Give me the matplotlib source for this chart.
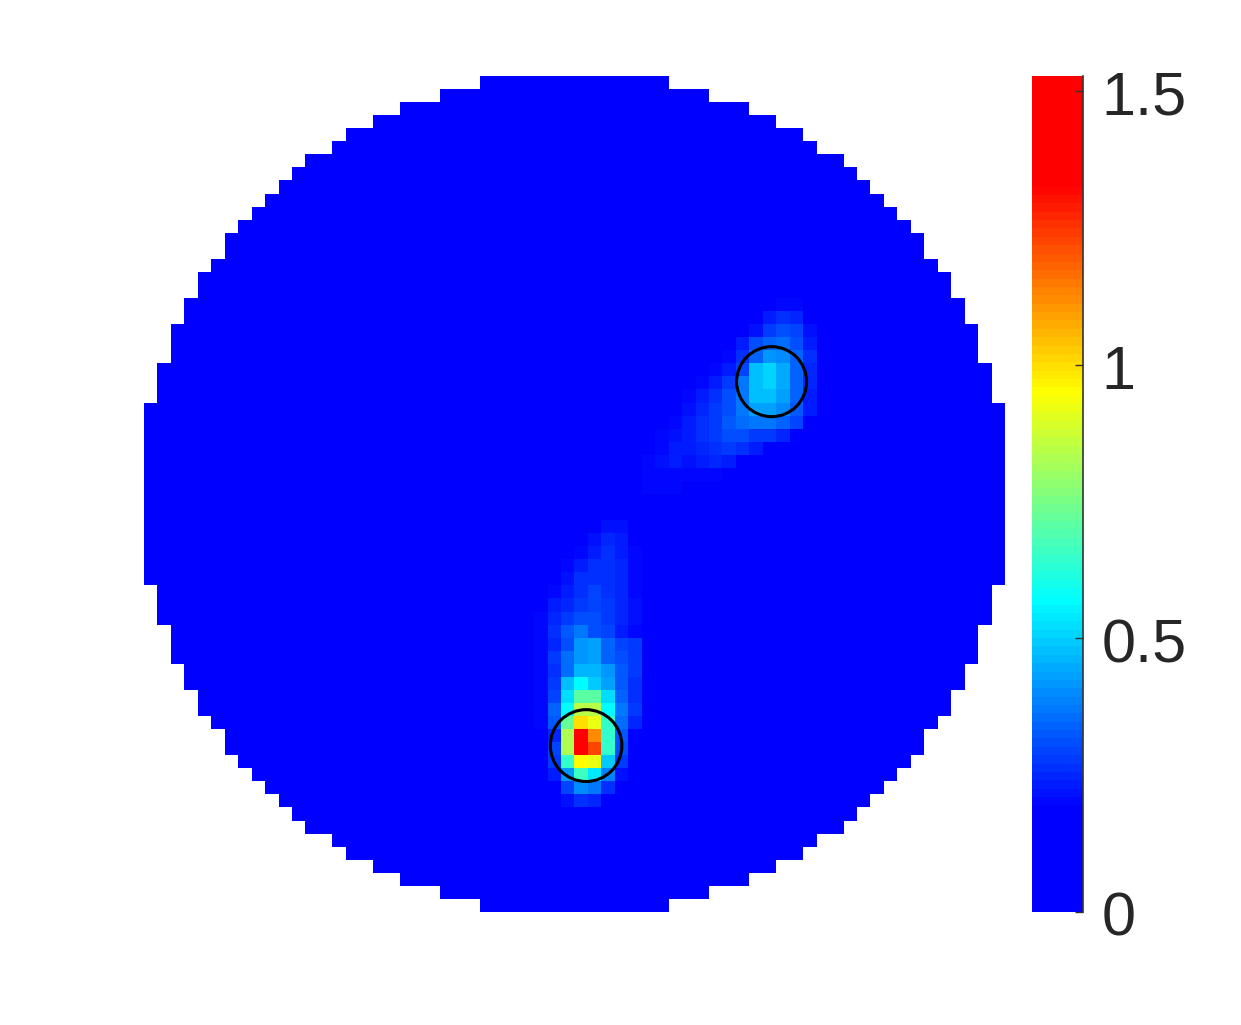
import numpy as np
import matplotlib
matplotlib.use('Agg')
import matplotlib.pyplot as plt
from matplotlib.colors import LinearSegmentedColormap
from matplotlib.patches import Ellipse
from matplotlib.transforms import ScaledTranslation

plt.rcParams['font.family'] = ['Liberation Sans', 'DejaVu Sans']

# first column inside the disc, top half of the 64x64 grid
row_start = [25, 22, 19, 17, 15, 14, 12, 11, 10, 9, 8, 7, 6, 6, 5, 4, 4, 3, 3, 2, 2, 2, 1, 1, 1,
             0, 0, 0, 0, 0, 0, 0]

# row: (first column, values)
top_blob = {
    17: (47, [.21, .21]),
    18: (46, [.23, .27, .25]),
    19: (45, [.22, .29, .32, .30, .22]),
    20: (44, [.24, .31, .34, .36, .32, .24]),
    21: (43, [.21, .27, .35, .42, .40, .34, .26]),
    22: (42, [.20, .24, .30, .475, .51, .45, .35, .25]),
    23: (41, [.21, .24, .29, .38, .48, .51, .45, .34, .25]),
    24: (40, [.21, .24, .27, .31, .37, .48, .475, .44, .34, .24]),
    25: (40, [.22, .25, .28, .32, .38, .44, .44, .40, .33, .23]),
    26: (39, [.21, .24, .26, .29, .33, .36, .38, .37, .35, .30]),
    27: (38, [.20, .22, .24, .26, .29, .31, .31, .29, .28, .25]),
    28: (38, [.21, .23, .24, .25, .27, .29, .26, .24]),
    29: (37, [.21, .22, .23, .22, .23, .25, .24]),
    30: (37, [.21, .21, .21, .205, .20, .20]),
    31: (37, [.21, .21, .20]),
}

bottom_blob = {
    34: (34, [.22, .22]),
    35: (33, [.22, .25, .23]),
    36: (32, [.21, .24, .26, .24, .21]),
    37: (31, [.21, .23, .26, .27, .25, .21]),
    38: (31, [.22, .26, .27, .27, .25, .21]),
    39: (30, [.21, .24, .27, .30, .27, .25, .21]),
    40: (30, [.23, .25, .29, .30, .28, .25, .22]),
    41: (29, [.21, .25, .29, .31, .31, .28, .25, .22]),
    42: (29, [.21, .27, .33, .37, .31, .30, .24, .20]),
    43: (29, [.20, .25, .32, .42, .44, .35, .30, .28]),
    44: (29, [.21, .29, .36, .42, .44, .35, .31, .28]),
    45: (29, [.21, .27, .36, .46, .46, .42, .33, .28]),
    46: (29, [.21, .28, .475, .57, .50, .44, .33, .27]),
    47: (29, [.21, .30, .52, .71, .71, .52, .35, .27]),
    48: (29, [.21, .35, .57, .84, .84, .57, .38, .28]),
    49: (29, [.21, .33, .72, .995, .93, .65, .36, .25]),
    50: (30, [.25, .827, 1.38, 1.127, .65, .33]),
    51: (30, [.30, .827, 1.38, 1.23, .65, .32]),
    52: (30, [.28, .65, .955, .92, .50, .28]),
    53: (30, [.24, .42, .66, .54, .39, .22]),
    54: (31, [.30, .40, .38, .26]),
    55: (31, [.22, .26, .25]),
}

# circles: x, y, x radius, y radius in grid cells
circles = [(46.65, 23.4, 2.6, 2.68), (32.86, 51.26, 2.66, 2.75)]

vmax = 1.527
cbar_ticks = [0, 0.5, 1, 1.5]
cbar_labels = ['0', '0.5', '1', '1.5']

n = 64
field = np.zeros((n, n))
for blob in (top_blob, bottom_blob):
    for r, (c0, vals) in blob.items():
        field[r, c0:c0 + len(vals)] = vals

mask = np.ones((n, n), dtype=bool)
for r, c0 in enumerate(row_start):
    mask[r, c0:n - c0] = False
    mask[n - 1 - r, c0:n - c0] = False
field = np.ma.array(field, mask=mask)

cmap = LinearSegmentedColormap.from_list(
    'jet_clip',
    [(0, (0, 0, 1)), (.125, (0, 0, 1)), (.375, (0, 1, 1)), (.625, (1, 1, 0)), (.875, (1, 0, 0)), (1, (1, 0, 0))],
    N=100)
cmap.set_bad('white')

W, H = 1241, 1025
fig = plt.figure(figsize=(W / 100, H / 100), dpi=100)
ax = fig.add_axes([144 / W, 1 - 912 / H, 861 / W, 836 / H])
im = ax.imshow(field, cmap=cmap, vmin=0, vmax=vmax, aspect='auto', interpolation='nearest',
               extent=(0, n, n, 0))
for x, y, rx, ry in circles:
    ax.add_patch(Ellipse((x, y), 2 * rx, 2 * ry, fill=False, edgecolor='black', linewidth=2.2))
ax.axis('off')

cax = fig.add_axes([1032 / W, 1 - 912 / H, 51 / W, 836 / H])
cb = fig.colorbar(im, cax=cax, ticks=cbar_ticks)
cb.ax.set_yticklabels(cbar_labels)
cb.outline.set_visible(False)
cb.ax.spines['right'].set_visible(True)
cb.ax.spines['right'].set_color('#333333')
cb.ax.spines['right'].set_linewidth(1.2)
cb.ax.tick_params(direction='in', length=5.5, width=1.0, color='#333333', labelsize=44,
                  labelcolor='#262626', pad=13.5)
cb.solids.set_edgecolor('face')
# labels sit a little lower than their ticks
shift = ScaledTranslation(0, -2 / 100, fig.dpi_scale_trans)
for lab in cb.ax.get_yticklabels():
    lab.set_transform(lab.get_transform() + shift)

fig.savefig('out.png', dpi=100)
